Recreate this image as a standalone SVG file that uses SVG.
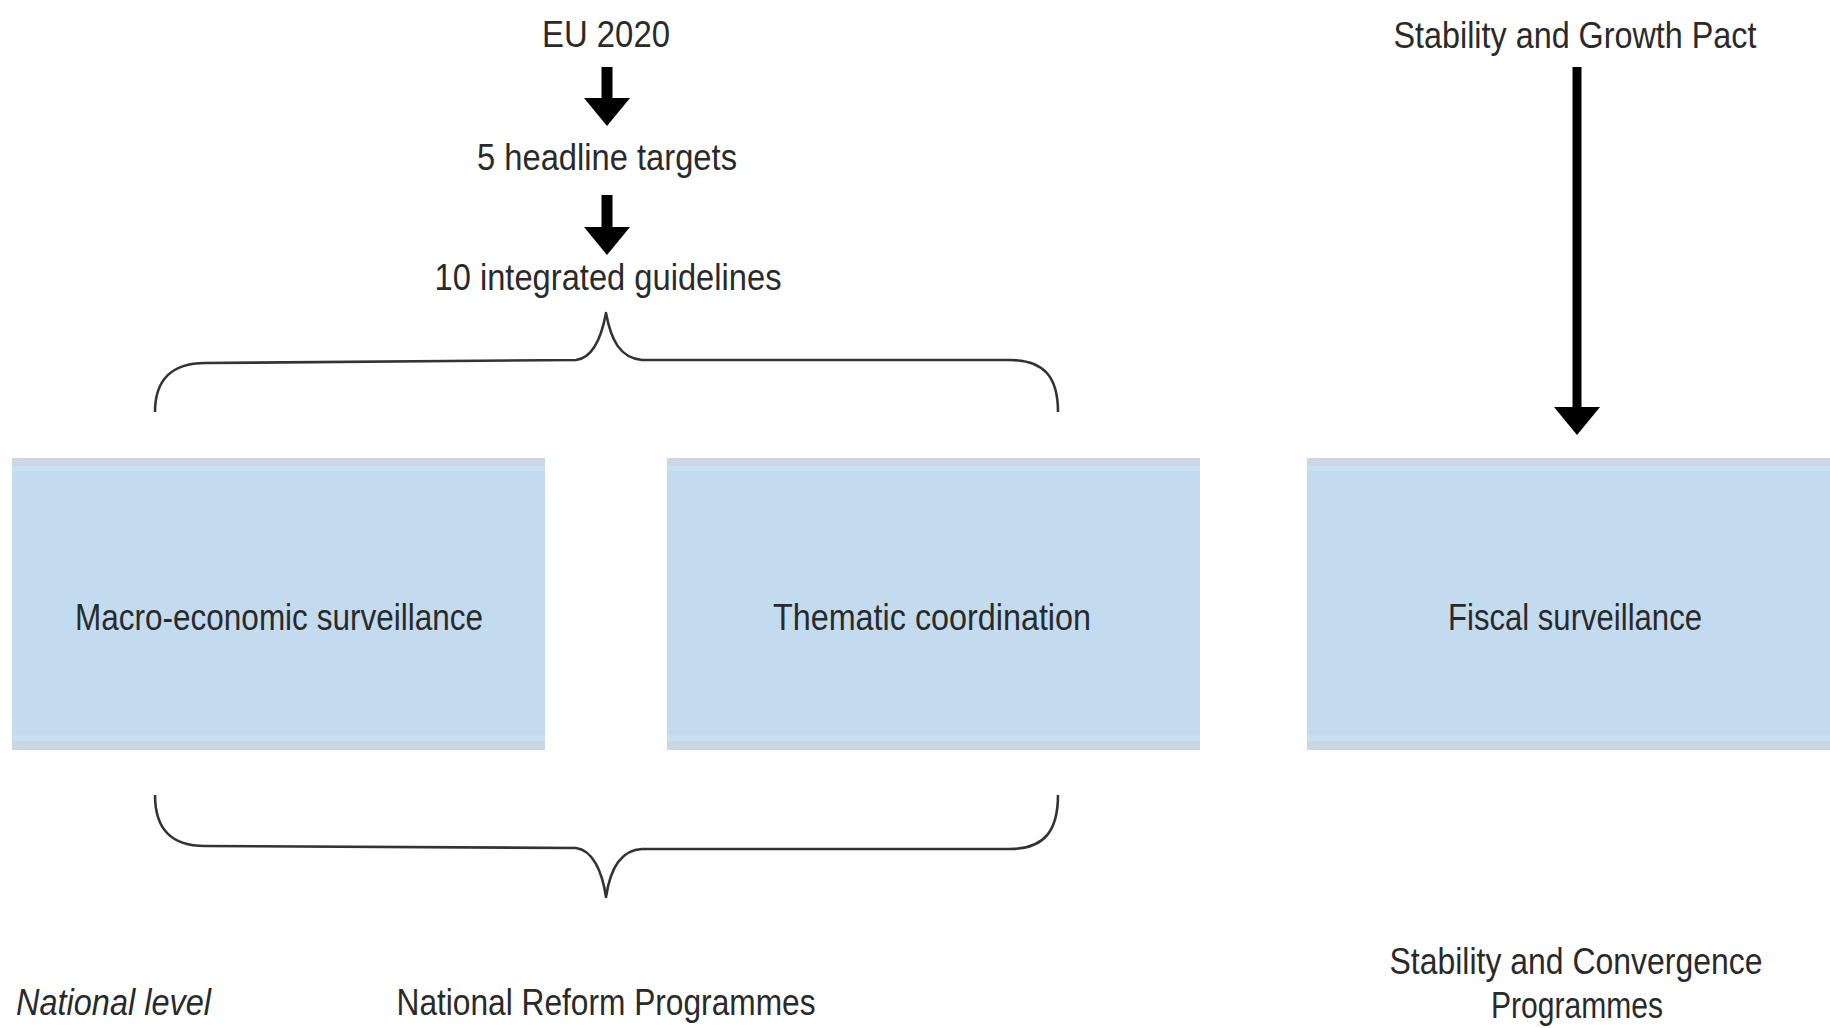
<svg xmlns="http://www.w3.org/2000/svg" width="1830" height="1028" viewBox="0 0 1830 1028">
<style>
text{font-family:"Liberation Sans",Arial,sans-serif;font-size:37px;fill:#2a2a2a;}
.c{text-anchor:middle;}
.i{font-style:italic;}
.box{fill:#c3dbef;}
.band{fill:#c8d7e3;}
.lite{fill:#c9e0f3;}
.brace{fill:none;stroke:#333;stroke-width:2.6;stroke-linejoin:round;}
.shaft{stroke:#000;fill:none;}
</style>
<defs>
<marker id="head" markerUnits="userSpaceOnUse" viewBox="0 0 28 46" markerWidth="28" markerHeight="46" refX="0" refY="23" orient="auto">
<path d="M0,0 L28,23 L0,46 z" fill="#000"/>
</marker>
</defs>
<rect width="1830" height="1028" fill="#fff"/>

<g id="eu2020"><text class="c" x="606" y="47" textLength="128" lengthAdjust="spacingAndGlyphs">EU 2020</text></g>
<g id="targets"><text class="c" x="607" y="170" textLength="260" lengthAdjust="spacingAndGlyphs">5 headline targets</text></g>
<g id="guidelines"><text class="c" x="608" y="290" textLength="347" lengthAdjust="spacingAndGlyphs">10 integrated guidelines</text></g>
<g id="sgp"><text class="c" x="1575" y="48" textLength="363" lengthAdjust="spacingAndGlyphs">Stability and Growth Pact</text></g>

<g id="macro">
<rect class="box" x="12" y="458" width="533" height="292"/>
<rect class="band" x="12" y="458" width="533" height="8"/>
<rect class="lite" x="12" y="466" width="533" height="5"/>
<rect class="lite" x="12" y="735" width="533" height="6"/>
<rect class="band" x="12" y="741" width="533" height="9"/>
<text class="c" x="279" y="630" textLength="408" lengthAdjust="spacingAndGlyphs">Macro-economic surveillance</text>
</g>
<g id="thematic">
<rect class="box" x="667" y="458" width="533" height="292"/>
<rect class="band" x="667" y="458" width="533" height="8"/>
<rect class="lite" x="667" y="466" width="533" height="5"/>
<rect class="lite" x="667" y="735" width="533" height="6"/>
<rect class="band" x="667" y="741" width="533" height="9"/>
<text class="c" x="932" y="630" textLength="318" lengthAdjust="spacingAndGlyphs">Thematic coordination</text>
</g>
<g id="fiscal">
<rect class="box" x="1307" y="458" width="530" height="292"/>
<rect class="band" x="1307" y="458" width="530" height="8"/>
<rect class="lite" x="1307" y="466" width="530" height="5"/>
<rect class="lite" x="1307" y="735" width="530" height="6"/>
<rect class="band" x="1307" y="741" width="530" height="9"/>
<text class="c" x="1575" y="630" textLength="254" lengthAdjust="spacingAndGlyphs">Fiscal surveillance</text>
</g>

<g id="national-level"><text class="i" x="16" y="1015" textLength="195" lengthAdjust="spacingAndGlyphs">National level</text></g>
<g id="nrp"><text class="c" x="606" y="1015" textLength="419" lengthAdjust="spacingAndGlyphs">National Reform Programmes</text></g>
<g id="scp">
<text class="c" x="1576" y="974" textLength="373" lengthAdjust="spacingAndGlyphs">Stability and Convergence</text>
<text class="c" x="1577" y="1018" textLength="172" lengthAdjust="spacingAndGlyphs">Programmes</text>
</g>

<g id="connectors">
<line class="shaft" x1="607" y1="67" x2="607" y2="98" stroke-width="11" marker-end="url(#head)"/>
<line class="shaft" x1="607" y1="195" x2="607" y2="227" stroke-width="11" marker-end="url(#head)"/>
<line class="shaft" x1="1577" y1="67" x2="1577" y2="407" stroke-width="9" marker-end="url(#head)"/>
<path class="brace" d="M155,412 C155,380 172,363 205,363 L576,360 C592,358 601,340 606,313 C611,340 620,358 642,360 L1010,360 C1045,360 1058,378 1058,412"/>
<path class="brace" d="M155,795 C155,830 172,846 205,846 L576,848 C592,850 602,870 606,897 C610,870 620,850 642,849 L1010,849 C1045,849 1058,830 1058,795"/>
</g>
</svg>
